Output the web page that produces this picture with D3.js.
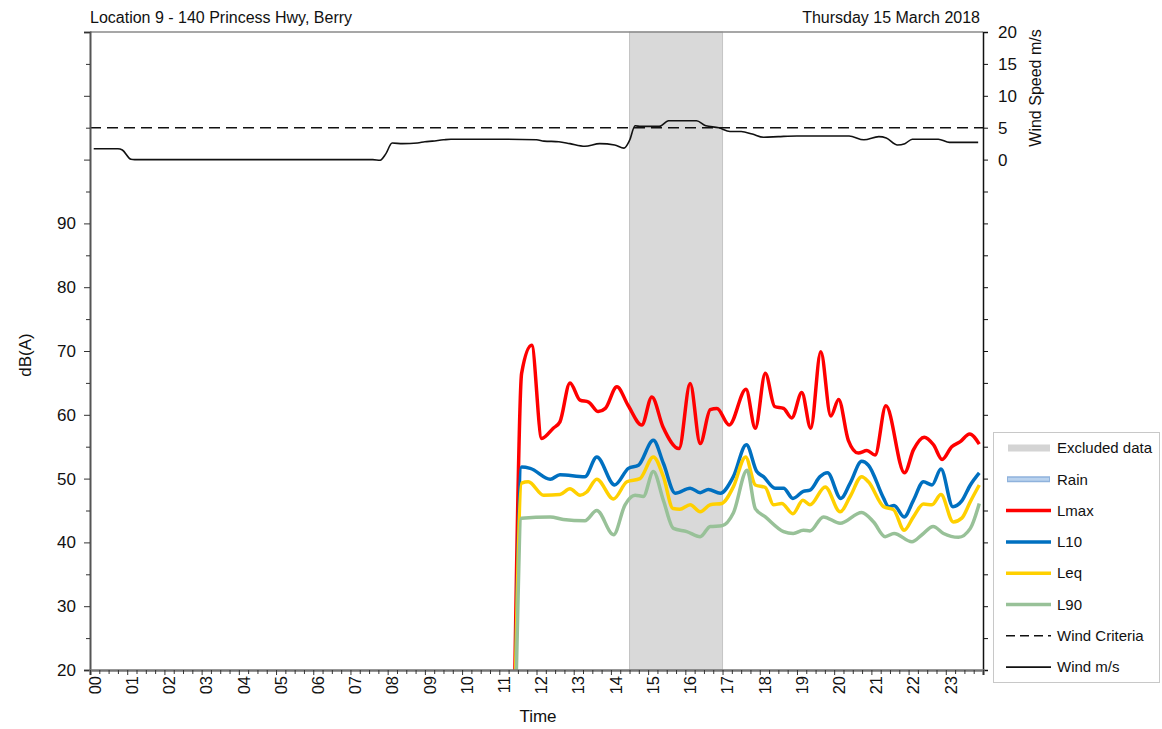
<!DOCTYPE html>
<html><head><meta charset="utf-8">
<script src="https://cdn.jsdelivr.net/npm/d3@7"></script>
<style>
body{margin:0;background:#fff;}
text{font-family:"Liberation Sans",Arial,sans-serif;fill:#111;}
</style></head>
<body><svg id="chart" width="1162" height="729"></svg>
<script>
const titleLeft = "Location 9 - 140 Princess Hwy, Berry";
const titleRight = "Thursday 15 March 2018";
const hourLabels = ["00","01","02","03","04","05","06","07","08","09","10","11","12","13","14","15","16","17","18","19","20","21","22","23"];
const dbTicks = [20,30,40,50,60,70,80,90];
const windTicks = [0,5,10,15,20];
const excluded = [14.5, 17.0];
const windCriteria = 5;

const lmax = [[11.42,20],[11.6,66.5],[11.87,70.9],[12.14,56.3],[12.45,57.9],[12.63,58.9],[12.9,65.0],[13.17,62.3],[13.4,62.0],[13.66,60.5],[13.85,61.0],[14.16,64.4],[14.46,61.5],[14.83,58.4],[15.1,62.8],[15.4,58.1],[15.83,54.7],[16.13,64.9],[16.4,55.5],[16.67,60.8],[16.85,61.0],[17.18,58.4],[17.63,64.0],[17.88,57.9],[18.15,66.5],[18.4,61.3],[18.64,61.0],[18.86,59.5],[19.13,63.5],[19.37,57.9],[19.64,69.9],[19.91,59.8],[20.12,62.4],[20.38,56.0],[20.65,54.0],[20.88,54.4],[21.1,53.7],[21.39,61.4],[21.89,50.9],[22.13,54.5],[22.42,56.5],[22.67,55.3],[22.9,53.0],[23.16,55.0],[23.39,55.8],[23.64,57.0],[23.9,55.4]];
const l10 = [[11.44,20],[11.6,51.8],[11.83,51.6],[12.37,49.9],[12.63,50.6],[13.3,50.3],[13.62,53.4],[14.1,49.0],[14.47,51.6],[14.74,52.1],[15.14,56.0],[15.41,52.4],[15.73,47.7],[16.13,48.5],[16.4,47.8],[16.62,48.3],[16.94,47.7],[17.29,50.3],[17.64,55.3],[17.92,51.1],[18.1,50.3],[18.41,48.5],[18.64,48.5],[18.89,46.9],[19.17,48.0],[19.35,48.2],[19.62,50.3],[19.82,50.9],[20.18,46.9],[20.43,49.3],[20.74,52.7],[20.92,52.1],[21.33,46.9],[21.46,45.6],[21.61,45.8],[21.88,44.0],[22.13,46.6],[22.4,49.5],[22.63,49.0],[22.87,51.5],[23.19,45.6],[23.43,46.5],[23.66,49.0],[23.9,50.9]];
const leq = [[11.44,20],[11.6,49.3],[11.78,49.5],[12.19,47.4],[12.63,47.5],[12.9,48.4],[13.17,47.4],[13.35,47.9],[13.62,49.9],[14.07,46.8],[14.43,49.5],[14.78,50.0],[15.14,53.4],[15.41,50.3],[15.67,45.3],[15.85,45.2],[16.13,45.9],[16.4,44.8],[16.67,45.9],[16.98,46.1],[17.29,48.7],[17.62,53.4],[17.88,49.0],[18.15,48.6],[18.37,45.9],[18.59,46.1],[18.89,44.5],[19.16,46.6],[19.35,45.9],[19.76,48.7],[20.16,44.8],[20.43,47.2],[20.74,50.3],[20.92,49.5],[21.33,45.6],[21.6,45.1],[21.88,41.9],[22.13,44.0],[22.4,46.0],[22.63,45.9],[22.87,47.5],[23.2,43.2],[23.43,43.8],[23.66,46.4],[23.9,49.0]];
const l90 = [[11.46,20],[11.6,43.8],[12.37,44.0],[12.72,43.6],[13.3,43.4],[13.62,45.0],[14.07,41.2],[14.38,45.9],[14.65,47.4],[14.87,47.2],[15.14,51.1],[15.41,46.6],[15.68,42.2],[16.04,41.7],[16.4,40.9],[16.67,42.5],[16.98,42.6],[17.29,44.6],[17.66,51.3],[17.88,45.3],[18.15,44.0],[18.64,41.7],[18.9,41.4],[19.17,41.9],[19.35,41.8],[19.71,44.0],[20.16,43.0],[20.74,44.7],[21.06,43.2],[21.37,40.9],[21.61,41.4],[22.09,40.1],[22.36,41.2],[22.66,42.5],[22.94,41.4],[23.34,40.8],[23.66,42.2],[23.9,46.1]];
const wind = [[0.1,1.7],[0.75,1.7],[0.87,1.5],[1.1,0.05],[1.2,0],[7.6,0],[7.8,-0.1],[7.95,0.9],[8.12,2.6],[8.4,2.5],[8.8,2.6],[9.0,2.8],[9.2,2.9],[9.5,3.1],[9.7,3.2],[11.0,3.2],[12.0,3.1],[12.2,2.9],[12.6,2.8],[12.9,2.5],[13.3,2.1],[13.7,2.5],[14.1,2.3],[14.35,1.8],[14.5,3.0],[14.65,5.3],[14.8,5.2],[15.3,5.2],[15.55,6.1],[16.3,6.1],[16.55,5.3],[16.9,5.0],[17.2,4.4],[17.5,4.4],[17.8,4.0],[18.1,3.5],[18.5,3.6],[19.0,3.7],[20.4,3.7],[20.8,3.1],[21.2,3.6],[21.4,3.4],[21.7,2.3],[21.9,2.5],[22.1,3.2],[22.8,3.2],[23.1,2.7],[23.87,2.7]];

const series = [
  {name:"Lmax", data:lmax, color:"#ff0000"},
  {name:"L10", data:l10, color:"#0070c0"},
  {name:"Leq", data:leq, color:"#ffd000"},
  {name:"L90", data:l90, color:"#98c198"}
];

const svg = d3.select("#chart");
const L = 90, R = 983, T = 32, B = 670;
const x = d3.scaleLinear().domain([0,24]).range([L,R]);
const y = d3.scaleLinear().domain([20,120]).range([B,T]);
const yw = d3.scaleLinear().domain([-80,20]).range([B,T]);

svg.append("defs").append("clipPath").attr("id","clip")
  .append("rect").attr("x",L).attr("y",T).attr("width",R-L).attr("height",B-T);

svg.append("rect").attr("x",x(excluded[0])).attr("y",T).attr("width",x(excluded[1])-x(excluded[0])).attr("height",B-T)
  .attr("fill","#d9d9d9").attr("stroke","#c4c4c4").attr("stroke-width",1);

svg.append("line").attr("x1",L).attr("x2",R).attr("y1",T).attr("y2",T).attr("stroke","#8a8a8a").attr("stroke-width",1.5);

const g = svg.append("g").attr("clip-path","url(#clip)");
const line = d3.line().x(d=>x(d[0])).y(d=>y(d[1])).curve(d3.curveMonotoneX);
series.forEach(s=>{
  g.append("path").datum(s.data).attr("d",line).attr("fill","none")
   .attr("stroke",s.color).attr("stroke-width",3.5).attr("stroke-linejoin","round");
});
g.append("line").attr("x1",L).attr("x2",R).attr("y1",yw(windCriteria)).attr("y2",yw(windCriteria))
  .attr("stroke","#111").attr("stroke-width",1.6).attr("stroke-dasharray","11,6");
const wline = d3.line().x(d=>x(d[0])).y(d=>yw(d[1])).curve(d3.curveMonotoneX);
g.append("path").datum(wind).attr("d",wline).attr("fill","none").attr("stroke","#111").attr("stroke-width",1.6);

const yAxis = d3.axisLeft(y).tickValues(d3.range(20,121,5)).tickSize(6).tickPadding(8)
  .tickFormat(d=>dbTicks.includes(d)?d:"");
const ya = svg.append("g").attr("transform",`translate(${L},0)`).call(yAxis);
ya.select(".domain").attr("stroke","#555").attr("stroke-width",2);
ya.selectAll(".tick line").attr("stroke","#333");
ya.selectAll(".tick line").filter(d=>d%10!==0).attr("x2",-4);
ya.selectAll("text").style("font-size","17px").attr("fill","#111");

const wAxis = d3.axisRight(yw).tickValues(d3.range(-80,21,5)).tickSize(5).tickPadding(10)
  .tickFormat(d=>windTicks.includes(d)?d:"");
const wa = svg.append("g").attr("transform",`translate(${R},0)`).call(wAxis);
wa.select(".domain").attr("stroke","#111").attr("stroke-width",1.5);
wa.selectAll(".tick line").attr("stroke","#111");
wa.selectAll("text").style("font-size","17px").attr("fill","#111");

const xAxis = d3.axisBottom(x).tickValues(d3.range(0,24.01,0.25)).tickSize(5).tickFormat("");
const xa = svg.append("g").attr("transform",`translate(0,${B})`).call(xAxis);
xa.select(".domain").attr("stroke","#777").attr("stroke-width",2.5);
xa.selectAll(".tick line").attr("stroke","#333");
xa.selectAll(".tick line").filter(d=>Math.abs(d-Math.round(d))>0.01).attr("y2",4);
svg.append("g").selectAll("text").data(hourLabels).join("text")
  .attr("transform",(d,i)=>`translate(${x(i)+5},${B+6}) rotate(-90)`)
  .attr("text-anchor","end").attr("dy","0.35em")
  .style("font-size","16.5px").text(d=>d);

svg.append("text").attr("x",L).attr("y",23).style("font-size","16px").text(titleLeft);
svg.append("text").attr("x",R-3).attr("y",23).attr("text-anchor","end").style("font-size","16px").text(titleRight);
svg.append("text").attr("x",538).attr("y",722).attr("text-anchor","middle").style("font-size","17px").text("Time");
svg.append("text").attr("transform",`translate(31,355) rotate(-90)`).attr("text-anchor","middle").style("font-size","17px").text("dB(A)");
svg.append("text").attr("transform",`translate(1041,88) rotate(-90)`).attr("text-anchor","middle").style("font-size","16px").text("Wind Speed m/s");

const leg = svg.append("g");
leg.append("rect").attr("x",993.5).attr("y",432.5).attr("width",166).attr("height",250)
  .attr("fill","#fff").attr("stroke","#c8c8c8");
const legItems = [
  {label:"Excluded data", type:"excl"},
  {label:"Rain", type:"rain"},
  {label:"Lmax", color:"#ff0000"},
  {label:"L10", color:"#0070c0"},
  {label:"Leq", color:"#ffd000"},
  {label:"L90", color:"#98c198"},
  {label:"Wind Criteria", type:"dash"},
  {label:"Wind m/s", type:"wind"}
];
legItems.forEach((it,i)=>{
  const yy = 448 + i*31.3;
  if(it.type==="excl"){
    leg.append("line").attr("x1",1008).attr("x2",1050).attr("y1",yy).attr("y2",yy).attr("stroke","#d4d4d4").attr("stroke-width",7);
  } else if(it.type==="rain"){
    leg.append("line").attr("x1",1007).attr("x2",1050).attr("y1",yy).attr("y2",yy).attr("stroke","#8fb2dc").attr("stroke-width",6);
    leg.append("line").attr("x1",1008).attr("x2",1049).attr("y1",yy).attr("y2",yy).attr("stroke","#b9d2ee").attr("stroke-width",3);
  } else if(it.type==="dash"){
    leg.append("line").attr("x1",1006).attr("x2",1051).attr("y1",yy).attr("y2",yy).attr("stroke","#111").attr("stroke-width",1.6).attr("stroke-dasharray","9,5");
  } else if(it.type==="wind"){
    leg.append("line").attr("x1",1006).attr("x2",1051).attr("y1",yy).attr("y2",yy).attr("stroke","#111").attr("stroke-width",1.6);
  } else {
    leg.append("line").attr("x1",1006).attr("x2",1051).attr("y1",yy).attr("y2",yy).attr("stroke",it.color).attr("stroke-width",3.5);
  }
  leg.append("text").attr("x",1057).attr("y",yy).attr("dy","0.35em").style("font-size","15px").text(it.label);
});
</script></body></html>
